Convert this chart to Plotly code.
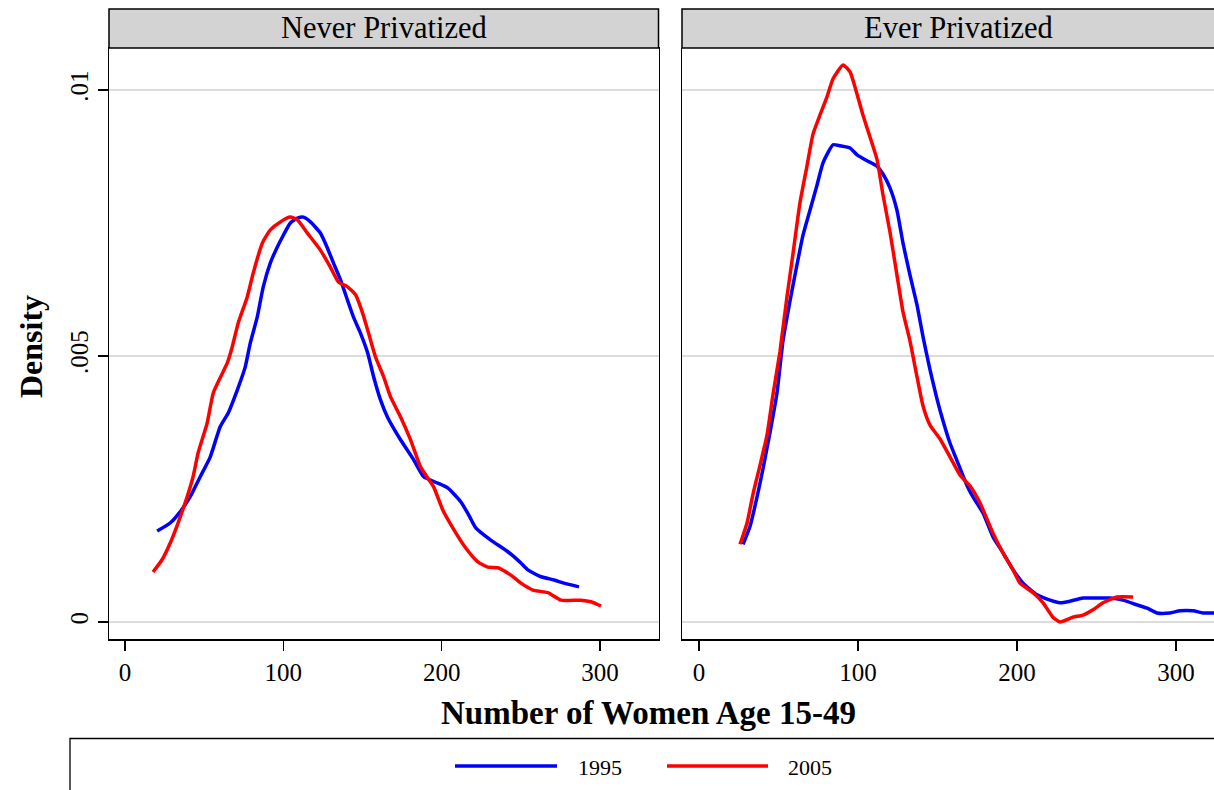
import plotly.graph_objects as go

# ---------------- data ----------------
never_1995_x = [20.3, 28.5, 34.8, 41.1, 47.5, 53.8, 60.1, 65.2, 70.9, 75.9, 79.1, 83.5, 87.3, 91.8,
                96.2, 100.0, 104.4, 108.9, 112.7, 117.1, 123.4, 127.8, 131.6, 136.1, 140.5, 144.3,
                148.7, 153.2, 157.0, 161.4, 165.8, 174.1, 182.3, 188.6, 197.5, 203.8, 212.0, 217.1,
                221.5, 231.0, 241.8, 250.0, 254.4, 262.7, 270.9, 277.2, 286.7]
never_1995_y = [0.00171, 0.00186, 0.00207, 0.00235, 0.00273, 0.00310, 0.00367, 0.00393, 0.00436,
                0.00479, 0.00524, 0.00573, 0.00630, 0.00675, 0.00705, 0.00727, 0.00750, 0.00759,
                0.00761, 0.00752, 0.00731, 0.00703, 0.00675, 0.00643, 0.00605, 0.00573, 0.00543,
                0.00506, 0.00461, 0.00417, 0.00385, 0.00342, 0.00305, 0.00273, 0.00261, 0.00252,
                0.00226, 0.00201, 0.00177, 0.00154, 0.00132, 0.00111, 0.00098, 0.00085, 0.00079,
                0.00073, 0.00066]

never_2005_x = [17.7, 23.4, 28.5, 33.5, 39.2, 43.0, 46.2, 51.9, 55.7, 60.1, 64.6, 67.7, 71.5, 77.2,
                81.0, 86.7, 91.8, 98.1, 104.4, 108.9, 115.2, 123.4, 129.7, 134.8, 140.5, 145.6,
                150.0, 153.8, 158.2, 163.3, 167.7, 174.1, 180.4, 186.7, 194.9, 200.6, 207.0, 215.2,
                222.8, 229.1, 235.4, 243.7, 250.0, 257.6, 267.1, 275.3, 288.0, 294.3, 300.6]
never_2005_y = [0.00094, 0.00117, 0.00148, 0.00186, 0.00235, 0.00273, 0.00318, 0.00374, 0.00430,
                0.00459, 0.00487, 0.00517, 0.00562, 0.00611, 0.00656, 0.00712, 0.00737, 0.00752,
                0.00761, 0.00756, 0.00731, 0.00699, 0.00667, 0.00639, 0.00630, 0.00615, 0.00581,
                0.00543, 0.00498, 0.00461, 0.00423, 0.00385, 0.00342, 0.00291, 0.00254, 0.00211,
                0.00177, 0.00139, 0.00113, 0.00103, 0.00102, 0.00088, 0.00073, 0.00060, 0.00055,
                0.00041, 0.00041, 0.00038, 0.00030]

ever_1995_x = [27.7, 32.1, 36.5, 40.3, 44.7, 49.1, 52.8, 57.2, 61.6, 65.4, 69.8, 74.2, 78.0, 84.3,
               88.7, 95.0, 99.4, 105.7, 111.9, 115.7, 120.1, 124.5, 128.3, 132.7, 137.1, 140.9,
               145.3, 149.7, 153.5, 157.9, 162.3, 168.6, 172.3, 178.6, 184.9, 191.2, 197.5, 203.8,
               212.6, 220.8, 227.0, 233.3, 241.5, 250.3, 258.5, 266.7, 275.5, 281.8, 288.1, 296.2,
               302.5, 310.7, 317.0, 323.9, 334.0]
ever_1995_y = [0.00146, 0.00180, 0.00235, 0.00289, 0.00357, 0.00432, 0.00528, 0.00603, 0.00671,
               0.00727, 0.00774, 0.00821, 0.00863, 0.00897, 0.00895, 0.00891, 0.00878, 0.00867,
               0.00857, 0.00842, 0.00816, 0.00774, 0.00712, 0.00652, 0.00596, 0.00536, 0.00474,
               0.00419, 0.00378, 0.00336, 0.00303, 0.00256, 0.00235, 0.00205, 0.00160, 0.00130,
               0.00098, 0.00073, 0.00051, 0.00041, 0.00036, 0.00039, 0.00045, 0.00045, 0.00045,
               0.00041, 0.00032, 0.00026, 0.00017, 0.00017, 0.00021, 0.00021, 0.00017, 0.00017,
               0.00016]

ever_2005_x = [25.8, 30.2, 34.0, 38.4, 42.8, 46.5, 50.9, 55.3, 59.1, 63.5, 67.9, 71.7, 76.1, 80.5,
               84.3, 90.6, 95.0, 99.4, 103.1, 107.5, 111.9, 115.7, 120.1, 124.5, 128.3, 132.7,
               137.1, 140.9, 145.3, 151.6, 157.9, 164.2, 170.4, 176.7, 184.9, 191.2, 197.5, 201.9,
               210.1, 216.4, 222.6, 227.0, 235.2, 241.5, 247.8, 254.1, 262.9, 273.0]
ever_2005_y = [0.00146, 0.00186, 0.00241, 0.00295, 0.00352, 0.00427, 0.00508, 0.00611, 0.00692,
               0.00788, 0.00857, 0.00917, 0.00953, 0.00987, 0.01021, 0.01047, 0.01034, 0.00992,
               0.00953, 0.00912, 0.00870, 0.00803, 0.00733, 0.00652, 0.00583, 0.00528, 0.00461,
               0.00406, 0.00370, 0.00344, 0.00310, 0.00276, 0.00256, 0.00224, 0.00167, 0.00130,
               0.00098, 0.00073, 0.00055, 0.00036, 0.00009, 0.00000, 0.00009, 0.00013, 0.00023,
               0.00036, 0.00047, 0.00047]

panel_titles = ["Never Privatized", "Ever Privatized"]
series_names = ["1995", "2005"]
series_colors = ["#0000ff", "#ff0000"]
y_tickvals = [0, 0.005, 0.01]
y_ticktext = ["0", ".005", ".01"]
x_tickvals = [0, 100, 200, 300]
x_ticktext = ["0", "100", "200", "300"]

# ---------------- figure ----------------
W, H = 1214, 790
FONT = "Liberation Serif"

def px(x):
    return x / W

def py(y):
    return (H - y) / H

fig = go.Figure()

panels = [
    (never_1995_x, never_1995_y, never_2005_x, never_2005_y, "x", "y"),
    (ever_1995_x, ever_1995_y, ever_2005_x, ever_2005_y, "x2", "y2"),
]
for xa, ya, xb, yb, xr, yr in panels:
    fig.add_trace(go.Scatter(x=xa, y=ya, mode="lines", xaxis=xr, yaxis=yr,
                             line=dict(color=series_colors[0], width=3.5, shape="spline", smoothing=0.5),
                             name=series_names[0], showlegend=False, hoverinfo="skip"))
    fig.add_trace(go.Scatter(x=xb, y=yb, mode="lines", xaxis=xr, yaxis=yr,
                             line=dict(color=series_colors[1], width=3.5, shape="spline", smoothing=0.5),
                             name=series_names[1], showlegend=False, hoverinfo="skip"))

y_range = [-0.00032, 0.010789]
ydom = [py(639), py(48)]

axis_common = dict(
    showgrid=False, zeroline=False, showline=True, linecolor="black", linewidth=1.5,
    ticks="outside", ticklen=10, tickwidth=1.3, tickcolor="black",
    tickfont=dict(family=FONT, size=25, color="black"),
)

fig.update_layout(
    width=W, height=H,
    margin=dict(l=0, r=0, t=0, b=0),
    paper_bgcolor="white", plot_bgcolor="white",
    showlegend=False,
    xaxis=dict(domain=[px(109), px(658.5)], range=[-10.1, 336.9],
               tickvals=x_tickvals, ticktext=x_ticktext, mirror=True,
               ticklabelstandoff=0, anchor="y", **axis_common),
    xaxis2=dict(domain=[px(682), 1.0], range=[-10.7, 323.9],
                tickvals=x_tickvals, ticktext=x_ticktext, mirror=False,
                ticklabelstandoff=0, anchor="y2", **axis_common),
    yaxis=dict(domain=ydom, range=y_range, tickvals=y_tickvals, ticktext=y_ticktext,
               tickangle=-90, mirror=True, anchor="x",
               showgrid=True, gridcolor="#dcdcdc", gridwidth=2,
               **{k: v for k, v in axis_common.items() if k != "showgrid"}),
    yaxis2=dict(domain=ydom, range=y_range, tickvals=y_tickvals, showticklabels=False,
                anchor="x2", showgrid=True, gridcolor="#dcdcdc", gridwidth=2,
                zeroline=False, showline=True, linecolor="black", linewidth=1.5, ticks=""),
)

shapes = []
# strip headers
for x0, x1 in [(109, 658.5), (682, 1231)]:
    shapes.append(dict(type="rect", xref="paper", yref="paper",
                       x0=px(x0), x1=px(x1), y0=py(48), y1=py(9),
                       fillcolor="#d3d3d3", line=dict(color="black", width=1.5)))
# legend box
shapes.append(dict(type="rect", xref="paper", yref="paper",
                   x0=px(70), x1=px(1300), y0=py(830), y1=py(738.5),
                   fillcolor="rgba(0,0,0,0)", line=dict(color="black", width=1.3)))
# legend keys
for (x0, x1), c in zip([(455, 557), (667, 768)], series_colors):
    shapes.append(dict(type="line", xref="paper", yref="paper",
                       x0=px(x0), x1=px(x1), y0=py(766), y1=py(766),
                       line=dict(color=c, width=3.5)))
fig.update_layout(shapes=shapes)

annotations = []
for title, xc in zip(panel_titles, [383.75, 958]):
    annotations.append(dict(text=title, xref="paper", yref="paper", x=px(xc), y=py(28.5),
                            xanchor="center", yanchor="middle", showarrow=False,
                            font=dict(family=FONT, size=30.5, color="black")))
annotations.append(dict(text="<b>Number of Women Age 15-49</b>", xref="paper", yref="paper",
                        x=px(648), y=py(713), xanchor="center", yanchor="middle", showarrow=False,
                        font=dict(family=FONT, size=33, color="black")))
annotations.append(dict(text="<b>Density</b>", xref="paper", yref="paper",
                        x=px(31), y=py(347), xanchor="center", yanchor="middle", showarrow=False,
                        textangle=-90, font=dict(family=FONT, size=32, color="black")))
for name, xl in zip(series_names, [576, 786]):
    annotations.append(dict(text=name, xref="paper", yref="paper", x=px(xl), y=py(767),
                            xanchor="left", yanchor="middle", showarrow=False,
                            font=dict(family=FONT, size=22, color="black")))
fig.update_layout(annotations=annotations)

fig.write_html(
    "out.html",
    config={"displayModeBar": False, "staticPlot": True},
    post_script="document.body.style.margin='0';document.body.style.overflow='hidden';",
)
